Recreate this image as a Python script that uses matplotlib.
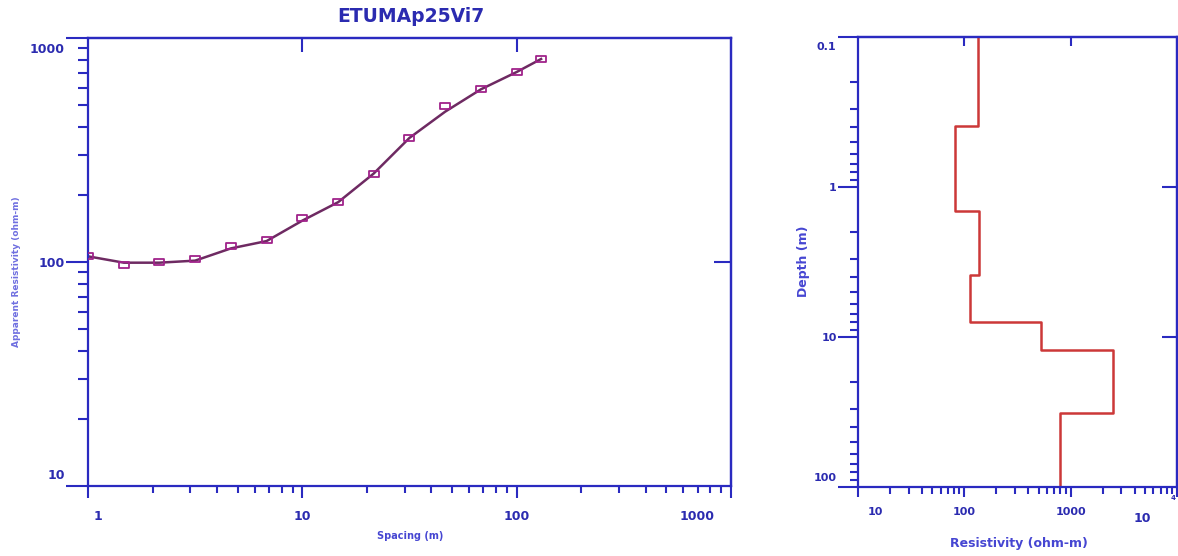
import numpy as np
import matplotlib
matplotlib.use("Agg")
import matplotlib.pyplot as plt
from matplotlib.ticker import LogLocator, NullFormatter, NullLocator
from matplotlib.transforms import ScaledTranslation
from matplotlib.path import Path

# ---------------- data ----------------
title = "ETUMAp25Vi7"
spacing = [1.0, 1.47, 2.15, 3.16, 4.64, 6.81, 10.0, 14.7, 21.5, 31.6, 46.4, 68.1, 100.0, 130.0]
rho_observed = [106, 96.7, 100, 102.8, 118, 125, 157, 185, 248, 359, 495, 592, 707, 806]
rho_model = [106, 99.3, 99.3, 101.4, 115, 124, 153, 185, 248, 358, 469, 590, 705, 806]

layer_rho = [133, 81, 136, 114, 528, 2490, 790]
layer_top = [0.1, 0.395, 1.45, 3.85, 7.94, 12.3, 32.1]
max_depth = 100

left_xticks = [1, 10, 100, 1000]
left_xlabels = ["1", "10", "100", "1000"]
left_yticks = [10, 100, 1000]
left_ylabels = ["10", "100", "1000"]
right_xticks = [10, 100, 1000, 10000]
right_xlabels = ["10", "100", "1000", ""]
right_yticks = [0.1, 1, 10, 100]
right_ylabels = ["0.1", "1", "10", "100"]

# ---------------- style ----------------
BLUE = "#2a2ac0"
TXT = "#2b2bb0"
LBL = "#4646d2"
LBL_LIGHT = "#6f6fe0"
CURVE = "#6e2a62"
MARK = "#a0228a"
RED = "#cc3838"
plt.rcParams["font.family"] = ["DejaVu Sans"]
plt.rcParams["font.weight"] = "bold"

DPI = 100
fig = plt.figure(figsize=(11.78, 5.56), dpi=DPI)
W, H = 1178, 556

# flat rectangular marker (wider than tall)
rect_marker = Path([(-1, -0.62), (1, -0.62), (1, 0.62), (-1, 0.62), (-1, -0.62)],
                   [Path.MOVETO, Path.LINETO, Path.LINETO, Path.LINETO, Path.CLOSEPOLY])


def px_axes(l, t, r, b):
    return fig.add_axes([l / W, 1 - b / H, (r - l) / W, (b - t) / H])


def shift(label, dx, dy):
    label.set_transform(label.get_transform() + ScaledTranslation(dx / DPI, -dy / DPI, fig.dpi_scale_trans))


def style_axes(ax):
    for sp in ax.spines.values():
        sp.set_color(BLUE)
        sp.set_linewidth(1.6)


# ---------------- left: sounding curve ----------------
ax = px_axes(88, 38, 731, 486)
ax.set_xscale("log")
ax.set_yscale("log")
ax.set_xlim(1, 1000)
ax.set_ylim(10, 1000)
style_axes(ax)

ax.plot(spacing, rho_model, color=CURVE, lw=1.8, zorder=2)
ax.plot(spacing, rho_observed, linestyle="none", marker=rect_marker, markersize=7,
        markerfacecolor="none", markeredgecolor=MARK, markeredgewidth=1.3, zorder=3)

ax.set_xticks(left_xticks, left_xlabels)
ax.set_yticks(left_yticks, left_ylabels)
ax.xaxis.set_minor_locator(LogLocator(base=10, subs=np.arange(2, 10)))
ax.yaxis.set_minor_locator(LogLocator(base=10, subs=np.arange(2, 10)))
ax.xaxis.set_minor_formatter(NullFormatter())
ax.yaxis.set_minor_formatter(NullFormatter())
ax.tick_params(axis="x", which="major", direction="out", length=8.6, width=1.5, color=BLUE,
               pad=9, labelsize=9, labelcolor=TXT)
ax.tick_params(axis="x", which="minor", direction="out", length=5, width=1.5, color=BLUE)
ax.tick_params(axis="y", which="major", direction="out", length=15.8, width=1.5, color=BLUE,
               pad=1, labelsize=9, labelcolor=TXT)
ax.tick_params(axis="y", which="minor", direction="out", length=7.2, width=1.5, color=BLUE)

xl = ax.get_xticklabels()
shift(xl[0], 10, 0)
xl[-1].set_ha("right")
shift(xl[-1], -16, 0)
yl = ax.get_yticklabels()
shift(yl[0], 0, -12)
shift(yl[-1], 0, 10)

sx = ax.secondary_xaxis("top")
sx.set_xticks([10, 100])
sx.xaxis.set_minor_locator(NullLocator())
sx.tick_params(direction="in", length=10, width=1.5, color=BLUE, labeltop=False)
sx.spines["top"].set_color(BLUE)
sx.spines["top"].set_linewidth(1.6)
sy = ax.secondary_yaxis("right")
sy.set_yticks([100])
sy.yaxis.set_minor_locator(NullLocator())
sy.tick_params(direction="in", length=12, width=1.5, color=BLUE, labelright=False)
sy.spines["right"].set_color(BLUE)
sy.spines["right"].set_linewidth(1.6)

fig.text(411 / W, 1 - 17 / H, title, ha="center", va="center", fontsize=13.5,
         fontweight="bold", color=TXT)
fig.text(410 / W, 1 - 536 / H, "Spacing (m)", ha="center", va="center", fontsize=7,
         fontweight="bold", color=LBL)
fig.text(17 / W, 1 - 272 / H, "Apparent Resistivity (ohm-m)", ha="center", va="center",
         fontsize=6.5, fontweight="bold", color=LBL_LIGHT, rotation=90)

# ---------------- right: layered model ----------------
ax2 = px_axes(858, 37, 1177, 487)
ax2.set_xscale("log")
ax2.set_yscale("log")
ax2.set_xlim(10, 10000)
ax2.set_ylim(max_depth, 0.1)
style_axes(ax2)

bottoms = layer_top[1:] + [max_depth]
xs = np.repeat(layer_rho, 2)
ys = np.column_stack([layer_top, bottoms]).ravel()
ax2.plot(xs, ys, color=RED, lw=1.8)

ax2.set_xticks(right_xticks, right_xlabels)
ax2.set_yticks(right_yticks, right_ylabels)
ax2.xaxis.set_minor_locator(LogLocator(base=10, subs=np.arange(2, 10)))
ax2.yaxis.set_minor_locator(LogLocator(base=10, subs=np.arange(2, 10)))
ax2.xaxis.set_minor_formatter(NullFormatter())
ax2.yaxis.set_minor_formatter(NullFormatter())
ax2.tick_params(axis="x", which="major", direction="out", length=7.2, width=1.5, color=BLUE,
                pad=7, labelsize=8, labelcolor=TXT)
ax2.tick_params(axis="x", which="minor", direction="out", length=5, width=1.5, color=BLUE)
ax2.tick_params(axis="y", which="major", direction="out", length=14.4, width=1.5, color=BLUE,
                pad=1, labelsize=8, labelcolor=TXT)
ax2.tick_params(axis="y", which="minor", direction="out", length=5.8, width=1.5, color=BLUE)

xl2 = ax2.get_xticklabels()
shift(xl2[0], 17, 0)
yl2 = ax2.get_yticklabels()
shift(yl2[0], 0, 9)
shift(yl2[-1], 0, -10)

sx2 = ax2.secondary_xaxis("top")
sx2.set_xticks([100, 1000])
sx2.xaxis.set_minor_locator(NullLocator())
sx2.tick_params(direction="in", length=6.5, width=1.5, color=BLUE, labeltop=False)
sx2.spines["top"].set_color(BLUE)
sx2.spines["top"].set_linewidth(1.6)
sy2 = ax2.secondary_yaxis("right")
sy2.set_yticks([1, 10])
sy2.yaxis.set_minor_locator(NullLocator())
sy2.tick_params(direction="in", length=11, width=1.5, color=BLUE, labelright=False)
sy2.spines["right"].set_color(BLUE)
sy2.spines["right"].set_linewidth(1.6)

fig.text(1142 / W, 1 - 519 / H, "10", ha="center", va="center", fontsize=9,
         fontweight="bold", color=TXT)
fig.text(1173 / W, 1 - 498 / H, "4", ha="center", va="center", fontsize=5,
         fontweight="bold", color=TXT)
fig.text(1019 / W, 1 - 543 / H, "Resistivity (ohm-m)", ha="center", va="center",
         fontsize=9, fontweight="bold", color=LBL)
fig.text(804 / W, 1 - 261 / H, "Depth (m)", ha="center", va="center", fontsize=9,
         fontweight="bold", color=LBL, rotation=90)

fig.savefig("out.png", dpi=DPI)
